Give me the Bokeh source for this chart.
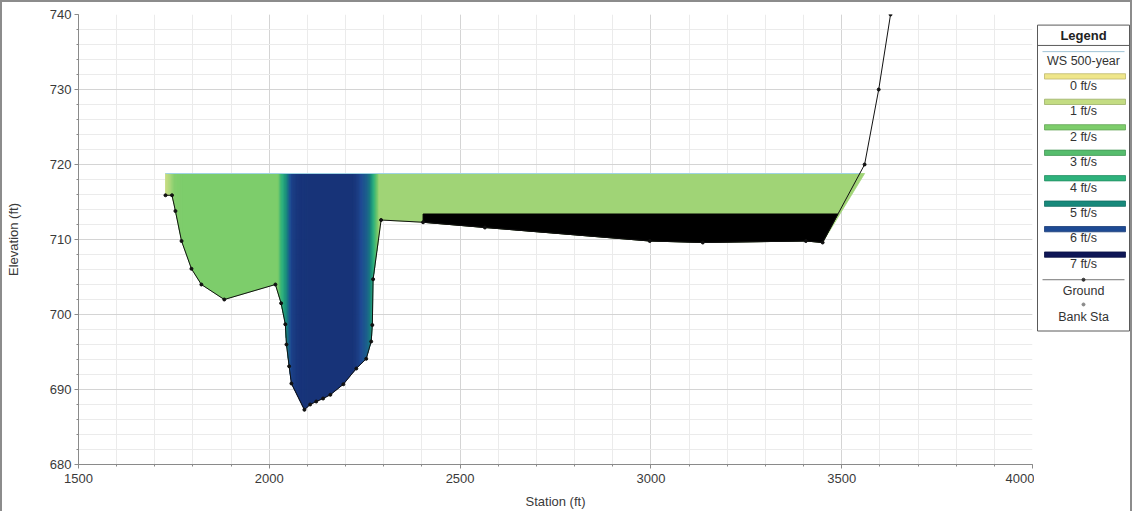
import numpy as np
from bokeh.plotting import figure
from bokeh.layouts import row
from bokeh.models import Range1d, SingleIntervalTicker
from bokeh.core.properties import value
from bokeh.embed import file_html
from bokeh.resources import INLINE

# ---------------- data ----------------
ground_sta = [1728, 1745, 1754, 1770, 1796, 1822, 1882, 2016, 2031, 2042, 2045, 2052, 2058,
              2092, 2107, 2123, 2141, 2160, 2194, 2228, 2254, 2267, 2270, 2272, 2293, 2403,
              2565, 2997, 3136, 3406, 3450, 3560, 3597, 3628]
ground_elev = [715.9, 715.9, 713.8, 709.8, 706.1, 704.0, 702.0, 704.0, 701.5, 698.7, 696.0,
               693.1, 690.8, 687.3, 688.0, 688.4, 688.8, 689.3, 690.7, 692.8, 694.1, 696.4,
               698.6, 704.7, 712.6, 712.3, 711.6, 709.8, 709.6, 709.8, 709.6, 720.0, 730.0, 740.0]

ws_elev = 718.8                 # WS 500-year
block_left_sta = 2403           # blocked / ineffective area
block_elev = 713.4

vel_sta = [1728, 1740, 1752, 1770, 2024, 2030, 2038, 2046, 2053, 2060, 2075, 2100, 2220,
           2232, 2242, 2255, 2264, 2270, 2276, 2282, 2288, 3560]
vel_val = [0.9, 1.3, 1.9, 2.0, 2.0, 3.5, 4.3, 5.0, 5.7, 6.2, 6.4, 6.45, 6.45,
           6.3, 6.0, 5.7, 5.3, 4.6, 3.8, 2.6, 1.5, 1.5]

legend_vel_labels = ["0 ft/s", "1 ft/s", "2 ft/s", "3 ft/s", "4 ft/s", "5 ft/s", "6 ft/s", "7 ft/s"]
legend_vel_colors = ["#efe68a", "#c3dc82", "#7dcd6b", "#56bd6d", "#2eb27c", "#17897b", "#1e4a94", "#0e1656"]

x_ticks_interval = 500
y_ticks_interval = 10

FONT_NAME = "Liberation Sans"
FONT = value(FONT_NAME)


def hex2rgb(h):
    h = h.lstrip("#")
    return [int(h[i:i + 2], 16) for i in (0, 2, 4)]


pal = np.array([hex2rgb(c) for c in legend_vel_colors], dtype=float)


def vel_color(v):
    v = min(max(v, 0.0), 7.0)
    i = min(int(np.floor(v)), 6)
    t = v - i
    c = pal[i] * (1 - t) + pal[i + 1] * t
    return "#%02x%02x%02x" % tuple(int(round(x)) for x in c)


gs = np.array(ground_sta, dtype=float)
ge = np.array(ground_elev, dtype=float)


def g_at(s):
    return float(np.interp(s, gs, ge))


# ---------------- main figure ----------------
p = figure(width=1032, height=509, x_range=Range1d(1500, 4000), y_range=Range1d(680, 740),
           output_backend="svg", toolbar_location=None,
           min_border_left=75, min_border_right=2, min_border_top=12, min_border_bottom=46)
p.background_fill_color = "white"
p.border_fill_color = "white"
p.outline_line_color = None

# water strips coloured by velocity
xs_list, ys_list, cols = [], [], []
for i in range(len(vel_sta) - 1):
    s0, s1 = vel_sta[i], vel_sta[i + 1]
    v0, v1 = vel_val[i], vel_val[i + 1]
    n = 1 if abs(v1 - v0) < 1e-9 else max(1, int(np.ceil((s1 - s0) / 2.0)))
    for k in range(n):
        a = s0 + (s1 - s0) * k / n
        b = s0 + (s1 - s0) * (k + 1) / n
        vm = v0 + (v1 - v0) * (k + 0.5) / n
        inner = [s for s in ground_sta if a < s < b]
        pts = [a] + inner + [b]
        bot = [min(g_at(s), ws_elev) for s in pts]
        xs_list.append(pts + [b, a])
        ys_list.append(bot + [ws_elev, ws_elev])
        cols.append(vel_color(vm))

p.patches(xs=xs_list, ys=ys_list, fill_color=cols, line_color=cols, line_width=0.8)

# blocked area (black)
right_pts = [(s, e) for s, e in zip(ground_sta, ground_elev) if s > block_left_sta]
x_int = None
prev = (block_left_sta, g_at(block_left_sta))
inner_block = []
for s, e in right_pts:
    if e >= block_elev and prev[1] < block_elev:
        x_int = prev[0] + (s - prev[0]) * (block_elev - prev[1]) / (e - prev[1])
        break
    inner_block.append((s, e))
    prev = (s, e)
bx = [block_left_sta, x_int] + [s for s, e in reversed(inner_block)] + [block_left_sta]
by = [block_elev, block_elev] + [e for s, e in reversed(inner_block)] + [g_at(block_left_sta)]
p.patch(bx, by, fill_color="black", line_color="black", line_width=1)

# water surface line
ws_right = None
for j in range(len(ground_sta) - 1, 0, -1):
    if ground_elev[j] >= ws_elev > ground_elev[j - 1]:
        ws_right = ground_sta[j - 1] + (ground_sta[j] - ground_sta[j - 1]) * \
            (ws_elev - ground_elev[j - 1]) / (ground_elev[j] - ground_elev[j - 1])
        break
p.line([ground_sta[0], ws_right], [ws_elev, ws_elev], line_color="#9fd3e3", line_width=1.2)

# ground
p.line(ground_sta, ground_elev, line_color="#111111", line_width=1)
p.scatter(ground_sta, ground_elev, size=3, fill_color="#111111", line_color="#111111")

# axes
p.xaxis.ticker = SingleIntervalTicker(interval=x_ticks_interval, num_minor_ticks=5)
p.yaxis.ticker = SingleIntervalTicker(interval=y_ticks_interval, num_minor_ticks=5)
p.xaxis.axis_label = "Station (ft)"
p.yaxis.axis_label = "Elevation (ft)"
for ax in (p.xaxis, p.yaxis):
    ax.axis_line_color = "#8a8a8a"
    ax.major_tick_line_color = "#8a8a8a"
    ax.minor_tick_line_color = "#8a8a8a"
    ax.major_tick_out = 4
    ax.major_tick_in = 0
    ax.minor_tick_out = 2
    ax.minor_tick_in = 0
    ax.major_label_text_font = FONT_NAME
    ax.major_label_text_font_size = "13px"
    ax.major_label_text_color = "#3a3a3a"
    ax.axis_label_text_font = FONT_NAME
    ax.axis_label_text_font_size = "13px"
    ax.axis_label_text_font_style = "normal"
    ax.axis_label_text_color = "#3a3a3a"
p.yaxis.major_label_standoff = 3
p.yaxis.axis_label_standoff = 26
p.xaxis.major_label_standoff = 5
p.xaxis.axis_label_standoff = 8

for g in (p.xgrid, p.ygrid):
    g.grid_line_color = "#d4d4d4"
    g.minor_grid_line_color = "#ebebeb"

# ---------------- legend panel ----------------
LW, LH = 96, 509
lf = figure(width=LW, height=LH, x_range=Range1d(0, LW), y_range=Range1d(LH, 0),
            x_axis_type=None, y_axis_type=None, output_backend="svg", toolbar_location=None,
            min_border_left=0, min_border_right=0, min_border_top=0, min_border_bottom=0)
lf.outline_line_color = None
lf.grid.visible = False
lf.background_fill_color = "white"
lf.border_fill_color = "white"

lf.quad(left=[3], right=[95], top=[12], bottom=[358], fill_color="white", line_color="#5a5a5a", line_width=1)
lf.line([3, 95], [35, 35], line_color="#5a5a5a", line_width=1)
lf.text(x=[49], y=[23.5], text=["Legend"], text_align="center", text_baseline="middle",
        text_font=FONT, text_font_size="13px", text_font_style="bold", text_color="#222222")

lf.line([8, 90], [42, 42], line_color="#9fc3d6", line_width=1)
label_x, label_y, label_t = [49], [53], ["WS 500-year"]

bar_c = [70 + 28.8 * i for i in range(len(legend_vel_labels))]


def darker(h, f=0.8):
    r, g, b = hex2rgb(h)
    return "#%02x%02x%02x" % (int(r * f), int(g * f), int(b * f))


lf.quad(left=[10] * len(bar_c), right=[91] * len(bar_c),
        top=[c - 3 for c in bar_c], bottom=[c + 3 for c in bar_c],
        fill_color=legend_vel_colors, line_color=[darker(c) for c in legend_vel_colors], line_width=0.8)
for c, t in zip(bar_c, legend_vel_labels):
    label_x.append(49)
    label_y.append(c + 10.5)
    label_t.append(t)

lf.line([8, 90], [300, 300], line_color="#777777", line_width=1)
lf.scatter([49], [300], size=3, color="#333333")
label_x += [49, 49]
label_y += [313, 342]
label_t += ["Ground", "Bank Sta"]
lf.scatter([49], [328], size=3, color="#8a8a8a")

lf.text(x=label_x, y=label_y, text=label_t, text_align="center", text_baseline="middle",
        text_font=FONT, text_font_size="12.5px", text_color="#333333")

layout = row(p, lf, styles={"border-top": "2px solid #8c8c8c", "border-left": "2px solid #8c8c8c",
                            "border-right": "2px solid #8c8c8c"})

open("out.html", "w").write(file_html(layout, INLINE))
